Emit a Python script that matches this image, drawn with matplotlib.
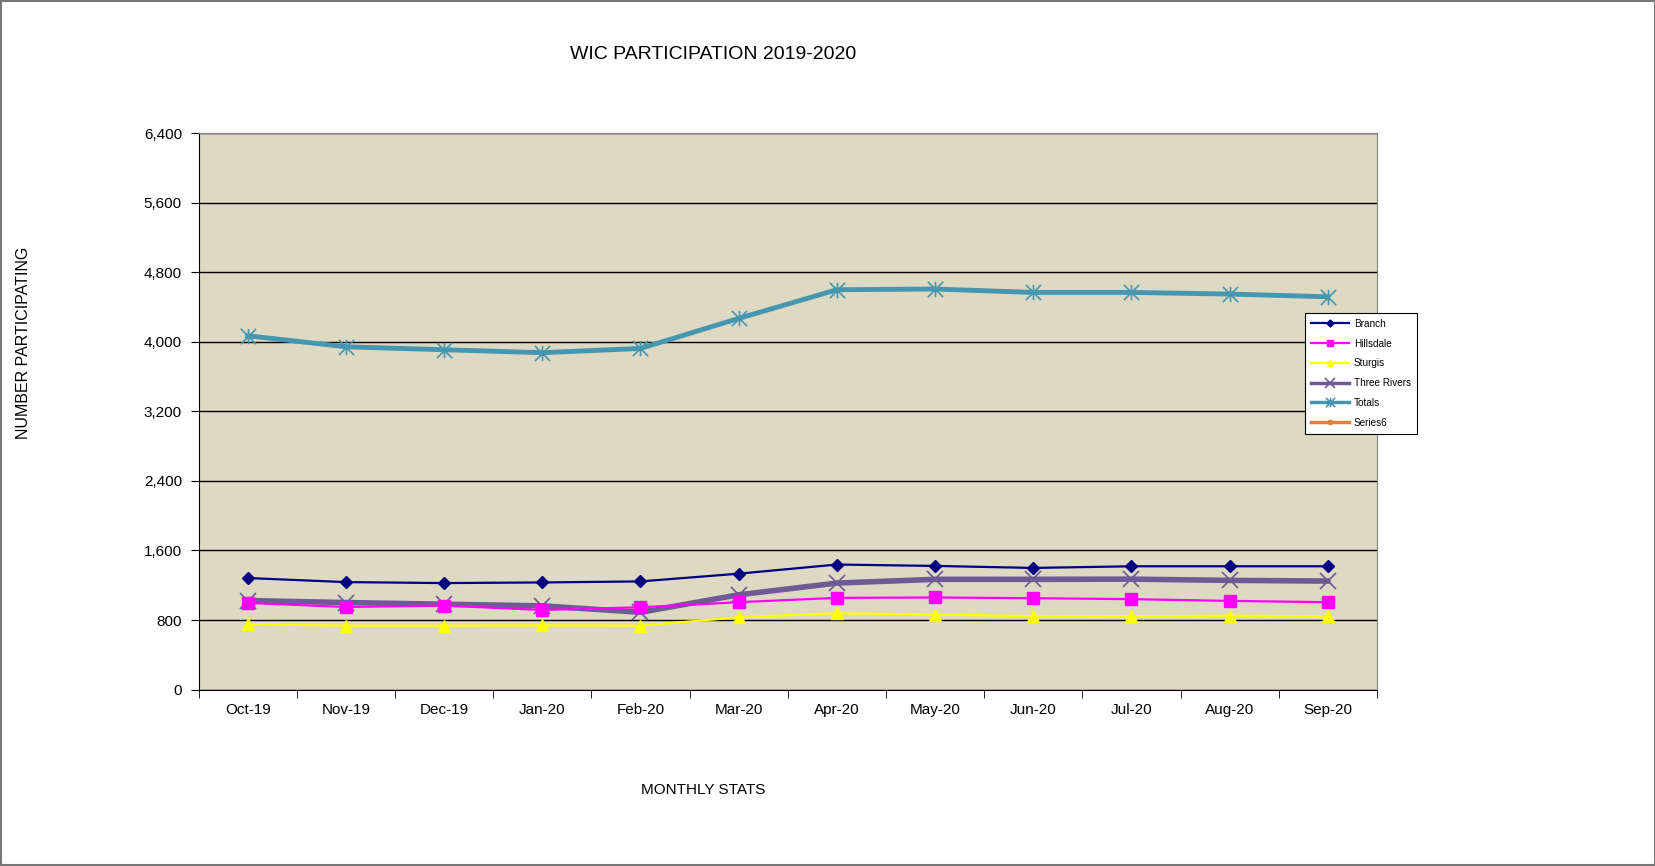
import matplotlib
matplotlib.use("Agg")
import matplotlib.pyplot as plt
from matplotlib.path import Path
from matplotlib.patches import Rectangle

months = ["Oct-19", "Nov-19", "Dec-19", "Jan-20", "Feb-20", "Mar-20",
          "Apr-20", "May-20", "Jun-20", "Jul-20", "Aug-20", "Sep-20"]

branch = [1283, 1236, 1225, 1232, 1244, 1333, 1438, 1422, 1399, 1418, 1418, 1418]
hillsdale = [997, 950, 966, 916, 947, 1005, 1055, 1059, 1051, 1040, 1020, 1005]
sturgis = [754, 735, 735, 739, 735, 831, 878, 862, 845, 842, 850, 842]
three_rivers = [1024, 1001, 982, 963, 889, 1090, 1225, 1268, 1268, 1270, 1256, 1248]
totals = [4069, 3942, 3908, 3874, 3923, 4268, 4598, 4606, 4567, 4567, 4548, 4517]
series6 = []

y_ticks = [0, 800, 1600, 2400, 3200, 4000, 4800, 5600, 6400]

plt.rcParams['font.family'] = ['Liberation Sans', 'DejaVu Sans']

fig = plt.figure(figsize=(16.56, 8.66), dpi=100)
ax = fig.add_axes([0.1199, 0.2037, 0.7116, 0.6427])
ax.set_facecolor('#DDD9C3')

# Excel style "star" marker: x with a vertical bar
star = Path([(0, -1), (0, 1), (-1, -1), (1, 1), (-1, 1), (1, -1)],
            [Path.MOVETO, Path.LINETO, Path.MOVETO, Path.LINETO, Path.MOVETO, Path.LINETO])

x = list(range(len(months)))

ax.plot(x, branch, color='#000080', linewidth=1.6, marker='D', markersize=6,
        label='Branch', zorder=5)
ax.plot(x, hillsdale, color='#FF00FF', linewidth=1.6, marker='s', markersize=8,
        label='Hillsdale', zorder=4)
ax.plot(x, sturgis, color='#FFFF00', linewidth=1.6, marker='^', markersize=8,
        label='Sturgis', zorder=4)
ax.plot(x, three_rivers, color='#6F5A96', linewidth=4, marker='x', markersize=11,
        markeredgewidth=1.2, label='Three Rivers', zorder=3)
ax.plot(x, totals, color='#4596B0', linewidth=3.5, marker=star, markersize=11,
        markeredgewidth=1.2, label='Totals', zorder=3)
ax.plot(series6, series6, color='#E0803A', linewidth=2.5, marker='o', markersize=5,
        label='Series6')

ax.set_xlim(-0.5, len(months) - 0.5)
ax.set_ylim(0, 6400)
ax.set_yticks(y_ticks)
ax.set_yticklabels([f"{v:,}" for v in y_ticks], fontsize=11)
ax.set_xticks(x)
ax.set_xticklabels(months, fontsize=11)
ax.set_xticks([i - 0.5 for i in range(len(months) + 1)], minor=True)
ax.tick_params(axis='x', which='major', length=0, pad=10)
ax.tick_params(axis='x', which='minor', length=6, direction='out')
ax.tick_params(axis='y', length=6, direction='out', pad=6)

ax.grid(True, axis='y', color='black', linewidth=1)
ax.set_axisbelow(True)
for side in ['top', 'right']:
    ax.spines[side].set_color('#808080')
for side in ['left', 'bottom']:
    ax.spines[side].set_color('black')

fig.text(0.4305, 0.937, "WIC PARTICIPATION 2019-2020", fontsize=14,
         ha='center', va='center')
fig.text(0.4245, 0.088, "MONTHLY STATS", fontsize=11, ha='center', va='center')
fig.text(0.0139, 0.604, "NUMBER PARTICIPATING", fontsize=11.5, rotation=90,
         ha='center', va='center')

legend = ax.legend(loc='upper left', bbox_to_anchor=(0.7848, 0.6446),
                   bbox_transform=fig.transFigure, fontsize=7.2, frameon=True,
                   fancybox=False, edgecolor='black', framealpha=1,
                   handlelength=3.8, markerscale=0.6, labelspacing=0.98,
                   borderpad=0.6, handletextpad=0.5)
legend.get_frame().set_linewidth(0.8)
for line in legend.get_lines():
    line.set_linewidth(min(line.get_linewidth(), 2.5))

# thin border around the whole chart area
fig.patches.append(Rectangle((0.0006, 0.0012), 0.9988, 0.9976, transform=fig.transFigure,
                             fill=False, edgecolor='#777777', linewidth=1.5))

plt.savefig("out.png", dpi=100, facecolor='white')
plt.close()
